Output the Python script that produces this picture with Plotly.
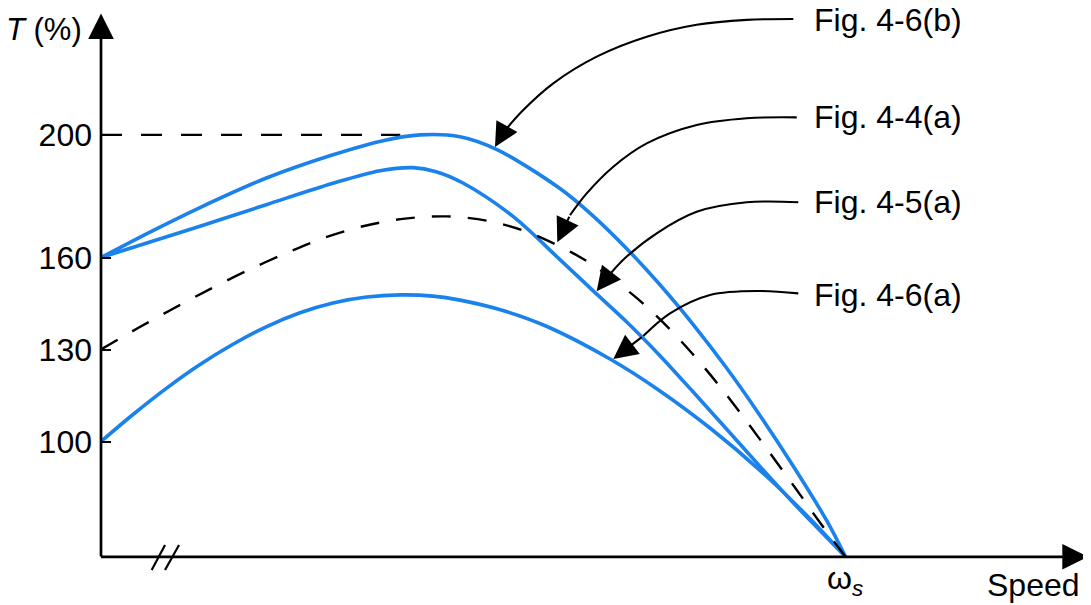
import plotly.graph_objects as go

# ---------------- data (speed as fraction of ω_s, torque T in %) ----------------
# Fig. 4-6(b)  (top solid curve)
speed_46b = [0, 0.0658, 0.1330, 0.2230, 0.3116, 0.3788, 0.4285, 0.4822, 0.5319,
             0.6165, 0.6608, 0.7065, 0.7508, 0.7952, 0.8408, 0.8851, 0.9295, 0.9752, 1.0]
torque_46b = [160, 168.3, 176.3, 186.0, 193.5, 198.1, 200.0, 199.4, 195.2,
              182.5, 173.6, 162.8, 151.1, 138.2, 123.8, 108.5, 92.1, 74.0, 62.4]

# Fig. 4-5(a)  (middle solid curve)
speed_45a = [0, 0.1330, 0.2230, 0.3116, 0.3747, 0.4190, 0.4500, 0.4862, 0.5534, 0.6165,
             0.6608, 0.7065, 0.7508, 0.7952, 0.8408, 0.8851, 0.9295, 0.9752, 1.0]
torque_45a = [160, 170.2, 177.3, 184.2, 188.3, 189.3, 188.0, 184.3, 173.4, 159.3,
              149.2, 138.9, 128.0, 116.2, 103.9, 91.9, 80.1, 68.6, 62.4]

# Fig. 4-4(a)  (dashed curve)
speed_44a = [0, 0.0497, 0.0967, 0.1464, 0.1961, 0.2445, 0.2982, 0.3519, 0.4083,
             0.4647, 0.5185, 0.5722, 0.6326, 0.6689, 0.7186, 0.7576, 0.7938,
             0.8301, 0.8650, 0.8986, 0.9321, 0.9671, 1.0]
torque_44a = [130, 137.0, 143.3, 149.7, 155.7, 161.0, 166.3, 170.2, 172.7,
              173.4, 172.0, 168.4, 161.6, 156.2, 147.0, 138.2, 128.8,
              118.3, 107.3, 96.2, 85.0, 73.1, 62.4]

# Fig. 4-6(a)  (bottom solid curve)
speed_46a = [0, 0.0430, 0.0882, 0.1330, 0.1773, 0.2226, 0.2673, 0.3116, 0.3569,
             0.4016, 0.4459, 0.4822, 0.5400, 0.5991, 0.6837, 0.7508, 0.8180,
             0.8851, 0.9523, 1.0]
torque_46a = [100, 108.8, 117.4, 125.1, 131.7, 137.5, 142.0, 145.2, 147.1,
              147.8, 147.4, 146.1, 142.7, 137.5, 126.9, 116.5, 104.4,
              90.6, 74.8, 62.4]

# dashed reference level (peak of Fig. 4-6(b))
peak_speed = [0, 0.402]
peak_torque = [200, 200]

tick_vals = [100, 130, 160, 200]
tick_text = ["100", "130", "160", "200"]
curve_labels = ["Fig. 4-6(b)", "Fig. 4-4(a)", "Fig. 4-5(a)", "Fig. 4-6(a)"]
T_BASE = 62.4          # torque level where the (broken) speed axis sits
WS = 1.0               # synchronous speed

# ---------------- annotation geometry (callout arrows) ----------------
label_x = 0.9546
label_y = [237.46, 205.8, 178.1, 147.8]
arrow_x = [
    [0.9299, 0.8673, 0.8001, 0.7330, 0.6658, 0.6075, 0.5672, 0.5404],
    [0.9345, 0.8673, 0.8001, 0.7330, 0.6881, 0.6524, 0.6300],
    [0.9366, 0.8673, 0.8001, 0.7464, 0.7061, 0.6837],
    [0.9366, 0.8852, 0.8180, 0.7643, 0.7284],
]
arrow_y = [
    [237.8, 237.5, 235.9, 232.0, 225.5, 216.8, 208.1, 200.8],
    [205.7, 205.4, 203.2, 197.2, 189.6, 180.9, 173.8],
    [178.0, 178.0, 174.9, 167.9, 160.3, 154.6],
    [148.3, 149.1, 147.8, 141.8, 134.4],
]
arrow_tip = [(0.5292, 196.0), (0.6129, 165.0), (0.6658, 149.0), (0.6881, 126.9)]

BLUE = "#1B82EC"
FONT = "Liberation Sans, Arial, Helvetica, sans-serif"

fig = go.Figure()

# horizontal dashed level line
fig.add_trace(go.Scatter(x=peak_speed, y=peak_torque, mode="lines",
                         line=dict(color="black", width=2.4, dash="21px,19px"),
                         cliponaxis=False, hoverinfo="skip", showlegend=False))

for sx, ty in [(speed_46b, torque_46b), (speed_45a, torque_45a), (speed_46a, torque_46a)]:
    fig.add_trace(go.Scatter(x=sx, y=ty, mode="lines",
                             line=dict(color=BLUE, width=3.6, shape="spline", smoothing=0.9),
                             cliponaxis=False, hoverinfo="skip", showlegend=False))

fig.add_trace(go.Scatter(x=speed_44a, y=torque_44a, mode="lines",
                         line=dict(color="black", width=2.4, dash="19px,17px",
                                   shape="spline", smoothing=0.9),
                         cliponaxis=False, hoverinfo="skip", showlegend=False))

# callout arrows
for xs, ys, tip in zip(arrow_x, arrow_y, arrow_tip):
    fig.add_trace(go.Scatter(x=xs, y=ys, mode="lines",
                             line=dict(color="black", width=2.1, shape="spline", smoothing=1.0),
                             cliponaxis=False, hoverinfo="skip", showlegend=False))
    fig.add_annotation(x=tip[0], y=tip[1], ax=xs[-1], ay=ys[-1],
                       xref="x", yref="y", axref="x", ayref="y", text="",
                       showarrow=True, arrowhead=2, arrowsize=2.3, arrowwidth=2.1,
                       arrowcolor="black", standoff=0)

for txt, ly in zip(curve_labels, label_y):
    fig.add_annotation(x=label_x, y=ly, xref="x", yref="y", text=txt, showarrow=False,
                       xanchor="left", yanchor="middle",
                       font=dict(size=32, color="black", family=FONT))

# axes drawn as arrows
fig.add_annotation(x=1.3257, y=T_BASE, ax=-0.002, ay=T_BASE, xref="x", yref="y",
                   axref="x", ayref="y", text="", showarrow=True, arrowhead=2,
                   arrowsize=1.9, arrowwidth=2.7, arrowcolor="black", standoff=0)
fig.add_annotation(x=0, y=239.6, ax=0, ay=T_BASE - 0.4, xref="x", yref="y",
                   axref="x", ayref="y", text="", showarrow=True, arrowhead=2,
                   arrowsize=1.9, arrowwidth=2.7, arrowcolor="black", standoff=0)

# axis break marks
for x0, x1 in [(0.0681, 0.0860), (0.0860, 0.1048)]:
    fig.add_shape(type="line", x0=x0, x1=x1, y0=58.1, y1=66.25, xref="x", yref="y",
                  line=dict(color="black", width=2.2))

# axis titles
fig.add_annotation(x=0, y=234.2, xref="x", yref="y", text="<i>T</i> (%)", showarrow=False,
                   xanchor="right", yanchor="middle", xshift=-17,
                   font=dict(size=31, color="black", family=FONT))
fig.add_annotation(x=WS, y=54.8, xref="x", yref="y", text="ω<sub><i>s</i></sub>",
                   showarrow=False, xanchor="center", yanchor="middle", xshift=-1,
                   font=dict(size=32, color="black", family=FONT))
fig.add_annotation(x=1.3177, y=53.2, xref="x", yref="y", text="Speed", showarrow=False,
                   xanchor="right", yanchor="middle",
                   font=dict(size=32, color="black", family=FONT))

# the page adds an 8 px body margin, so the figure is 8 px smaller and shifted accordingly
fig.update_layout(
    width=1083, height=597,
    margin=dict(l=93, r=0, t=0, b=5, autoexpand=False),
    paper_bgcolor="white", plot_bgcolor="white",
    showlegend=False,
    font=dict(family=FONT, color="black"),
    xaxis=dict(range=[0, 1.32975], visible=False, fixedrange=True, automargin=False),
    yaxis=dict(range=[48.31, 241.37], tickvals=tick_vals, ticktext=tick_text,
               ticks="inside", ticklen=10, tickwidth=2, tickcolor="black",
               showgrid=False, zeroline=False, showline=False, fixedrange=True,
               automargin=False, ticklabelstandoff=8,
               tickfont=dict(size=32, color="black", family=FONT)),
)

fig.write_html("out.html")
